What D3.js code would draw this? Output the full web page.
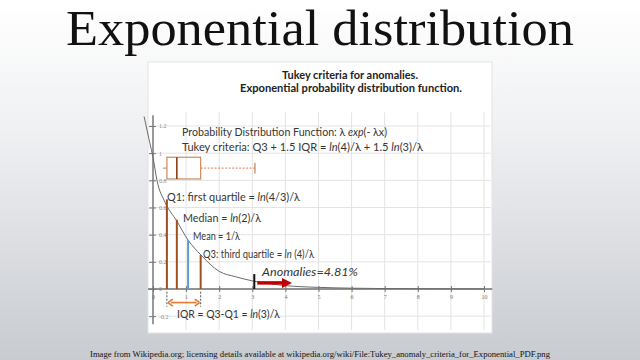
<!DOCTYPE html>
<html>
<head>
<meta charset="utf-8">
<script src="https://cdn.jsdelivr.net/npm/d3@7"></script>
<style>
  html, body { margin: 0; padding: 0; }
  body { width: 640px; height: 360px; overflow: hidden; }
</style>
</head>
<body>
<div class="canvas"></div>
<script>
// values
var curveX = [-0.27, -0.1, 0, 0.12, 0.36, 0.72, 1.06, 1.45, 2, 2.5, 3, 3.5, 4, 5, 6, 7, 8, 9, 10];
var curveY = [1.27, 1.08, 0.97, 0.80, 0.64, 0.50, 0.36, 0.25, 0.13, 0.09, 0.06, 0.04, 0.025, 0.012, 0.006, 0.003, 0.002, 0.001, 0.0005];

var markerNames = ['Q1', 'Median', 'Mean', 'Q3'];
var markerX = [0.42, 0.72, 1.06, 1.44];
var markerY = [0.66, 0.51, 0.36, 0.25];

var boxStats = [0.30, 0.42, 0.72, 1.44, 3.08]; // whisker low, q1, median, q3, whisker high
var anomalyX = [3.06, 4.2];
var anomalyText = 'Anomalies=4.81%';

var xTicks = [0, 1, 2, 3, 4, 5, 6, 7, 8, 9, 10];
var yTicks = [-0.2, 0, 0.2, 0.4, 0.6, 0.8, 1, 1.2];

var width = 640, height = 360;

var svg = d3.select('.canvas').append('svg')
    .attr('width', width)
    .attr('height', height);

var defs = svg.append('defs');
var bg = defs.append('linearGradient').attr('id', 'bg')
    .attr('x1', 0).attr('y1', 0).attr('x2', 0).attr('y2', 1);
bg.append('stop').attr('offset', '0%').attr('stop-color', '#ffffff');
bg.append('stop').attr('offset', '35%').attr('stop-color', '#f0f1f3');
bg.append('stop').attr('offset', '100%').attr('stop-color', '#c8cbd0');

svg.append('rect')
    .attr('width', width).attr('height', height)
    .attr('fill', 'url(#bg)');

// page title and caption
svg.append('text')
    .attr('x', 320).attr('y', 45)
    .attr('text-anchor', 'middle')
    .attr('font-family', '"Liberation Serif", serif')
    .attr('font-size', 50)
    .attr('textLength', 508)
    .attr('lengthAdjust', 'spacingAndGlyphs')
    .attr('fill', '#111')
    .text('Exponential distribution');

svg.append('text')
    .attr('x', 320).attr('y', 357)
    .attr('text-anchor', 'middle')
    .attr('font-family', '"Liberation Serif", serif')
    .attr('font-size', 7.6)
    .attr('textLength', 460)
    .attr('lengthAdjust', 'spacingAndGlyphs')
    .attr('fill', '#111')
    .text('Image from Wikipedia.org; licensing details available at wikipedia.org/wiki/File:Tukey_anomaly_criteria_for_Exponential_PDF.png');

// the white picture panel
svg.append('rect')
    .attr('x', 148).attr('y', 62)
    .attr('width', 344).attr('height', 271)
    .attr('fill', '#ffffff')
    .attr('stroke', '#e2e3e6')
    .attr('stroke-width', 1);

var x = d3.scaleLinear().domain([0, 10]).range([153, 484]);
var y = d3.scaleLinear().domain([0, 1.2]).range([289, 126]);

var plot = svg.append('g');

// grid
plot.selectAll('line.vgrid')
    .data(xTicks.slice(1))
    .enter().append('line')
    .attr('class', 'vgrid')
    .attr('x1', function (d) { return x(d); })
    .attr('x2', function (d) { return x(d); })
    .attr('y1', y(1.3)).attr('y2', y(-0.3))
    .attr('stroke', '#e3e3e3').attr('stroke-width', 1);

plot.selectAll('line.hgrid')
    .data(yTicks.filter(function (d) { return d !== 0; }))
    .enter().append('line')
    .attr('class', 'hgrid')
    .attr('x1', x(-0.1)).attr('x2', x(10.2))
    .attr('y1', function (d) { return y(d); })
    .attr('y2', function (d) { return y(d); })
    .attr('stroke', '#e3e3e3').attr('stroke-width', 1);

// axes
var xAxis = plot.append('g')
    .attr('transform', 'translate(0,' + y(0) + ')')
    .call(d3.axisBottom(x).tickValues(xTicks).tickSize(4).tickSizeOuter(0).tickFormat(d3.format('d')));
xAxis.select('.domain').attr('d', 'M' + x(-0.15) + ',0H' + x(10.25))
    .attr('stroke', '#6e6e6e').attr('stroke-width', 1.6);
xAxis.selectAll('.tick line').attr('y1', -3).attr('y2', 3).attr('stroke', '#777');
xAxis.selectAll('.tick text').attr('y', 6).attr('font-size', 6).attr('fill', '#777')
    .attr('font-family', '"Liberation Serif", serif');

var yAxis = plot.append('g')
    .attr('transform', 'translate(' + x(0) + ',0)')
    .call(d3.axisRight(y).tickValues(yTicks).tickSize(4).tickSizeOuter(0)
        .tickFormat(function (d) { return d === 0 ? '0' : String(d); }));
yAxis.select('.domain').attr('d', 'M0,' + y(1.28) + 'V' + y(-0.26))
    .attr('stroke', '#6e6e6e').attr('stroke-width', 1.4);
yAxis.selectAll('.tick line').attr('x1', -4).attr('x2', 3).attr('stroke', '#777');
yAxis.selectAll('.tick text').attr('x', 6).attr('font-size', 6).attr('fill', '#888')
    .attr('font-family', '"Liberation Serif", serif');

// pdf curve
var curveData = curveX.map(function (d, i) { return [d, curveY[i]]; });
plot.append('path')
    .datum(curveData)
    .attr('fill', 'none')
    .attr('stroke', '#6a6a6a')
    .attr('stroke-width', 1)
    .attr('d', d3.line()
        .x(function (d) { return x(d[0]); })
        .y(function (d) { return y(d[1]); })
        .curve(d3.curveMonotoneX));

// quartile / mean bars
plot.selectAll('line.marker')
    .data(markerNames)
    .enter().append('line')
    .attr('class', 'marker')
    .attr('x1', function (d, i) { return x(markerX[i]); })
    .attr('x2', function (d, i) { return x(markerX[i]); })
    .attr('y1', y(0))
    .attr('y2', function (d, i) { return y(markerY[i]); })
    .attr('stroke', function (d) { return d === 'Mean' ? '#5b9bd5' : '#a0501e'; })
    .attr('stroke-width', 2);

// box plot
var boxTop = y(0.97), boxBot = y(0.81), boxMid = y(0.89);
plot.append('line')
    .attr('x1', x(boxStats[0])).attr('x2', x(boxStats[1]))
    .attr('y1', boxMid).attr('y2', boxMid)
    .attr('stroke', '#c98050').attr('stroke-width', 1);
plot.append('rect')
    .attr('x', x(boxStats[1])).attr('y', boxTop)
    .attr('width', x(boxStats[3]) - x(boxStats[1]))
    .attr('height', boxBot - boxTop)
    .attr('fill', 'none')
    .attr('stroke', '#cb8a5c').attr('stroke-width', 1.2);
plot.append('line')
    .attr('x1', x(boxStats[2])).attr('x2', x(boxStats[2]))
    .attr('y1', boxTop).attr('y2', boxBot)
    .attr('stroke', '#8e3d12').attr('stroke-width', 1.6);
plot.append('line')
    .attr('x1', x(boxStats[3])).attr('x2', x(boxStats[4]))
    .attr('y1', boxMid).attr('y2', boxMid)
    .attr('stroke', '#d2804c').attr('stroke-width', 1)
    .attr('stroke-dasharray', '2,1.5');
plot.append('line')
    .attr('x1', x(boxStats[4])).attr('x2', x(boxStats[4]))
    .attr('y1', y(0.93)).attr('y2', y(0.85))
    .attr('stroke', '#b8683a').attr('stroke-width', 1);

// IQR arrow
var iqrY = y(-0.1);
[boxStats[1], boxStats[3]].forEach(function (v) {
    plot.append('line')
        .attr('x1', x(v)).attr('x2', x(v))
        .attr('y1', y(-0.02)).attr('y2', y(-0.13))
        .attr('stroke', '#555').attr('stroke-width', 1)
        .attr('stroke-dasharray', '2,1.5');
});
var x1 = x(boxStats[1]) + 1, x2 = x(boxStats[3]) - 1;
plot.append('line')
    .attr('x1', x1 + 3).attr('x2', x2 - 3)
    .attr('y1', iqrY).attr('y2', iqrY)
    .attr('stroke', '#e07a32').attr('stroke-width', 1.6);
plot.append('path')
    .attr('d', 'M' + x1 + ',' + iqrY + 'l5,-3.5M' + x1 + ',' + iqrY + 'l5,3.5' +
               'M' + x2 + ',' + iqrY + 'l-5,-3.5M' + x2 + ',' + iqrY + 'l-5,3.5')
    .attr('fill', 'none')
    .attr('stroke', '#e07a32').attr('stroke-width', 1.6);

// anomaly marker and arrow
plot.append('line')
    .attr('x1', x(anomalyX[0])).attr('x2', x(anomalyX[0]))
    .attr('y1', y(0.11)).attr('y2', y(0.0))
    .attr('stroke', '#111').attr('stroke-width', 2);
var ay = y(0.045), ax0 = x(anomalyX[0]) + 3, ax1 = x(anomalyX[1]);
plot.append('line')
    .attr('x1', ax0).attr('x2', ax1 - 8)
    .attr('y1', ay).attr('y2', ay)
    .attr('stroke', '#c00000').attr('stroke-width', 3.5);
plot.append('path')
    .attr('d', 'M' + ax1 + ',' + ay + 'L' + (ax1 - 10) + ',' + (ay - 5) + 'L' + (ax1 - 10) + ',' + (ay + 5) + 'Z')
    .attr('fill', '#c00000');

// annotation texts
var font = 'Lato, "Open Sans", sans-serif';
var ink = '#363636';

function label(xp, yp, parts, size, len, style) {
    var t = plot.append('text')
        .attr('x', xp).attr('y', yp)
        .attr('font-family', font)
        .attr('font-size', size)
        .attr('fill', ink);
    if (style) t.attr('font-style', style);
    if (len) t.attr('textLength', len).attr('lengthAdjust', 'spacingAndGlyphs');
    parts.forEach(function (p) {
        t.append('tspan')
            .attr('font-style', p[1] ? 'italic' : null)
            .text(p[0]);
    });
    return t;
}

var t1 = label(350, 79, [['Tukey criteria for anomalies.']], 10.5, 136);
t1.attr('text-anchor', 'middle').attr('font-weight', 'bold').attr('fill', '#222');
var t2 = label(351, 92, [['Exponential probability distribution function.']], 10.5, 222);
t2.attr('text-anchor', 'middle').attr('font-weight', 'bold').attr('fill', '#222');

label(182, 136, [['Probability Distribution Function: λ '], ['exp', true], ['(- λx)']], 10.5, 205);
label(182, 151, [['Tukey criteria:  Q3 + 1.5 IQR = '], ['ln', true], ['(4)/λ + 1.5  '], ['ln', true], ['(3)/λ']], 10.5, 241);

label(167, 201, [['Q1: first quartile = '], ['ln', true], ['(4/3)/λ']], 10.5, 133);
label(183, 222, [['Median = '], ['ln', true], ['(2)/λ']], 10.5, 78);
label(193, 240, [['Mean = 1/λ']], 10.5, 47);
label(203, 258, [['Q3: third quartile = '], ['ln', true], [' (4)/λ']], 10.5, 111);
label(262, 276, [[anomalyText]], 12, 96, 'italic');
label(177, 318, [['IQR = Q3-Q1 = '], ['ln', true], ['(3)/λ']], 10.5, 103);
</script>
</body>
</html>
